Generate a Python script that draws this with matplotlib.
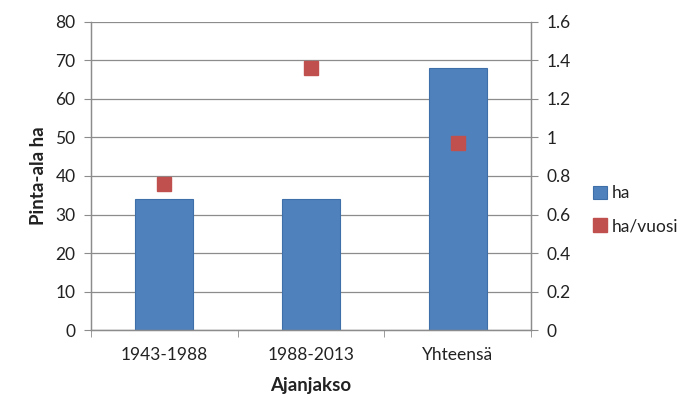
import matplotlib
matplotlib.use("Agg")
import matplotlib.pyplot as plt
import matplotlib.ticker as ticker
import numpy as np

# Data
categories = ["1943-1988", "1988-2013", "Yhteensä"]
ha = [34, 34, 68]
ha_per_year = [0.756, 1.36, 0.971]

C_BAR = "#4F81BD"
C_BAR_EDGE = "#3F6FA8"
C_MARK = "#C0504D"
C_AXIS = "#8C8C8C"
C_TEXT = "#222222"

plt.rcParams["font.family"] = ["Lato", "DejaVu Sans"]

fig = plt.figure(figsize=(6.99, 4.2), dpi=100, facecolor="white")
ax = fig.add_axes([0.130, 0.214, 0.630, 0.734])
ax2 = ax.twinx()

x = np.arange(len(categories))
ax.bar(x, ha, 0.395, color=C_BAR, edgecolor=C_BAR_EDGE, linewidth=0.8,
       zorder=2, label="ha")
ax2.plot(x, ha_per_year, linestyle="none", marker="s", markersize=10.5,
         color=C_MARK, markeredgecolor=C_MARK, zorder=3, label="ha/vuosi")

ax.set_xlim(-0.5, len(categories) - 0.5)
ax.set_ylim(0, 80)
ax2.set_ylim(0, 1.6)
ax.yaxis.set_major_locator(ticker.MultipleLocator(10))
ax2.yaxis.set_major_locator(ticker.MultipleLocator(0.2))
ax2.yaxis.set_major_formatter(ticker.FuncFormatter(lambda v, p: f"{v:g}"))

ax.grid(axis="y", color=C_AXIS, linewidth=0.9, zorder=0)
ax.set_axisbelow(True)

ax.set_xticks(x)
ax.set_xticklabels(categories)
ax.set_xticks(np.arange(-0.5, len(categories)), minor=True)
ax.tick_params(axis="x", which="major", length=0, pad=12,
               labelsize=12.5, colors=C_TEXT)
ax.tick_params(axis="x", which="minor", length=5, color=C_AXIS)
ax.tick_params(axis="y", length=5, color=C_AXIS, labelsize=12.5,
               labelcolor=C_TEXT, pad=6)
ax2.tick_params(axis="y", length=5, color=C_AXIS, labelsize=12.5,
                labelcolor=C_TEXT, pad=6)

for a in (ax, ax2):
    a.spines["top"].set_visible(False)
    for s in ("left", "right", "bottom"):
        a.spines[s].set_color(C_AXIS)
        a.spines[s].set_linewidth(0.9)

ax.set_ylabel("Pinta-ala ha", fontsize=13.5, fontweight="bold",
              color=C_TEXT, labelpad=6)
ax.set_xlabel("Ajanjakso", fontsize=13.5, fontweight="bold",
              color=C_TEXT, labelpad=10)

h1, l1 = ax.get_legend_handles_labels()
h2, l2 = ax2.get_legend_handles_labels()
fig.legend(h1 + h2, l1 + l2, loc="center left",
           bbox_to_anchor=(0.826, 0.50), frameon=False, fontsize=12.5,
           handlelength=0.8, handleheight=0.8, handletextpad=0.3,
           labelspacing=1.0, labelcolor=C_TEXT)

fig.savefig("out.png", dpi=100, facecolor="white")
